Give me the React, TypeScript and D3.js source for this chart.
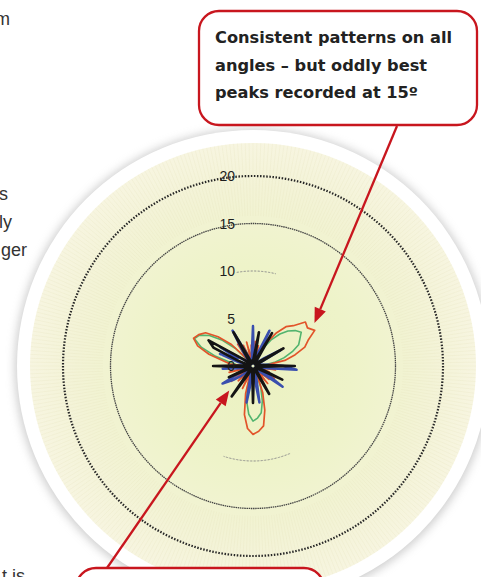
import React from "react";
import * as d3 from "d3";

// bearing of every reading, degrees clockwise from north
const angles = d3.range(0, 360, 5);
const ringTicks = [0, 5, 10, 15, 20];

// 15° tilt (orange) – three big lobes
const tilt15 = [
  0.6, 2.6, 0.5, 2.2, 0.6, 1.8, 2.8, 4.2, 5.4, 6.0, 7.2, 7.0,
  7.5, 6.4, 5.8, 4.6, 3.4, 1.6, 2.8, 0.5, 2.4, 0.5, 1.8, 0.6,
  2.6, 0.5, 2.2, 0.6, 2.4, 0.6, 2.2, 1.0, 3.0, 4.8, 6.4, 6.9,
  7.2, 6.6, 5.2, 3.0, 0.8, 2.6, 0.5, 2.4, 0.6, 2.2, 0.5, 2.8,
  0.6, 2.2, 0.5, 2.6, 0.6, 2.2, 0.8, 2.4, 3.2, 4.8, 6.2, 6.9,
  6.6, 6.1, 4.8, 3.2, 0.8, 2.8, 0.6, 2.4, 0.5, 2.6, 0.6, 2.2,
];
// 10° tilt (green)
const tilt10 = [
  0.5, 1.8, 0.4, 1.6, 0.5, 1.4, 2.2, 3.4, 4.4, 5.2, 5.8, 6.2,
  5.7, 5.3, 4.4, 3.4, 2.4, 1.2, 2.0, 0.4, 1.8, 0.4, 1.4, 0.5,
  2.0, 0.4, 1.6, 0.5, 1.8, 0.5, 1.6, 0.8, 2.4, 3.8, 5.0, 5.5,
  5.8, 5.1, 3.8, 2.2, 0.6, 1.8, 0.4, 1.8, 0.5, 1.6, 0.4, 2.0,
  0.5, 1.6, 0.4, 1.8, 0.5, 1.6, 0.6, 1.8, 2.6, 4.2, 5.8, 6.8,
  6.5, 5.6, 4.2, 2.6, 0.6, 2.0, 0.5, 1.8, 0.4, 1.8, 0.5, 1.6,
];
// 5° tilt (blue)
const tilt5 = [
  4.2, 0.8, 0.3, 0.5, 1.4, 4.1, 0.6, 0.3, 0.5, 0.3, 0.6, 1.4,
  3.4, 0.6, 0.3, 0.5, 0.8, 1.6, 3.2, 4.6, 1.2, 0.3, 0.5, 0.9,
  1.6, 3.8, 0.8, 0.3, 0.5, 0.3, 0.6, 0.4, 0.7, 1.4, 3.9, 0.8,
  0.5, 1.2, 3.9, 1.0, 0.3, 0.5, 0.3, 0.6, 0.5, 0.9, 1.6, 2.6,
  3.7, 1.0, 0.3, 0.6, 1.4, 3.2, 0.6, 0.3, 0.6, 1.6, 3.7, 1.8,
  4.0, 1.0, 0.3, 0.5, 0.9, 1.8, 4.3, 1.0, 0.3, 0.5, 0.3, 1.4,
];
// 0° tilt (black)
const tilt0 = [
  0.5, 0.9, 3.6, 0.6, 0.3, 0.9, 4.0, 0.6, 0.3, 0.5, 0.3, 0.9,
  3.7, 0.6, 0.3, 0.5, 0.3, 1.1, 4.4, 0.8, 0.3, 0.5, 0.9, 3.4,
  0.6, 0.3, 0.5, 0.3, 0.5, 0.9, 3.4, 0.6, 0.3, 0.5, 0.3, 0.9,
  3.9, 0.8, 0.3, 0.5, 0.3, 0.5, 1.1, 3.9, 0.6, 0.3, 0.5, 0.3,
  0.9, 2.8, 0.5, 0.3, 0.5, 1.1, 4.2, 0.8, 0.3, 0.7, 1.8, 4.6,
  5.4, 1.2, 0.3, 0.5, 0.3, 1.1, 4.1, 0.6, 0.3, 0.5, 0.3, 0.6,
];

const series = [
  { name: "10°", values: tilt10, color: "#52b46e", width: 1.6 },
  { name: "15°", values: tilt15, color: "#e2542a", width: 1.7 },
  { name: "5°", values: tilt5, color: "#3a4fae", width: 2.5 },
  { name: "0°", values: tilt0, color: "#141414", width: 2.6 },
];

const calloutTop = ["Consistent patterns on all", "angles – but oddly best", "peaks recorded at 15º"];
// where each pointer lands, in chart terms (bearing, value)
const pointTop = { angle: 55, value: 7.9 };
const pointBottom = { angle: 224, value: 3.6 };

const bodyLines = [
  { text: "m", x: 10, y: 25 },
  { text: "s", x: 8, y: 200 },
  { text: "ly", x: 12, y: 228 },
  { text: "ger", x: 27, y: 256 },
  { text: "t is", x: 25, y: 582 },
];

const W = 481;
const H = 577;
const cx = 253;
const cy = 366;
const RED = "#c8161e";

const rad = (deg: number) => (deg * Math.PI) / 180;

function Arrow({ from, to }: { from: [number, number]; to: [number, number] }) {
  const dx = to[0] - from[0];
  const dy = to[1] - from[1];
  const len = Math.hypot(dx, dy);
  const ux = dx / len;
  const uy = dy / len;
  const head = 15;
  const half = 6;
  const bx = to[0] - ux * head;
  const by = to[1] - uy * head;
  const pts = [
    [to[0], to[1]],
    [bx - uy * half, by + ux * half],
    [bx + uy * half, by - ux * half],
  ];
  return (
    <g>
      <line x1={from[0]} y1={from[1]} x2={bx} y2={by} stroke={RED} strokeWidth={2.3} />
      <polygon points={pts.map((p) => p.join(",")).join(" ")} fill={RED} />
    </g>
  );
}

export default function App() {
  const r = d3.scaleLinear().domain([0, 20]).range([0, 190]);
  const radial = d3
    .lineRadial<number>()
    .angle((_, i) => rad(angles[i]))
    .radius((d) => r(d))
    .curve(d3.curveLinearClosed);

  const polar = (p: { angle: number; value: number }): [number, number] => [
    cx + r(p.value) * Math.sin(rad(p.angle)),
    cy - r(p.value) * Math.cos(rad(p.angle)),
  ];

  const spokes = d3.range(0, 360, 1);
  const arc10 = d3.arc();
  const faint10 = [
    [-10, 14],
    [157, 198],
  ].map(([a0, a1]) =>
    arc10({ innerRadius: r(10), outerRadius: r(10), startAngle: rad(a0), endAngle: rad(a1) } as any)
  );

  return (
    <div style={{ position: "fixed", left: 0, top: 0, width: W, height: H, background: "#fff" }}>
      <svg width={W} height={H} style={{ display: "block" }}>
        <defs>
          <radialGradient id="disc" cx="50%" cy="50%" r="50%">
            <stop offset="0" stopColor="#ebf1c1" />
            <stop offset="0.45" stopColor="#eef3c9" />
            <stop offset="0.8" stopColor="#f3f3d6" />
            <stop offset="1" stopColor="#f7f5e0" />
          </radialGradient>
          <filter id="soft" x="-20%" y="-20%" width="140%" height="140%">
            <feGaussianBlur stdDeviation="5" />
          </filter>
        </defs>

        {bodyLines.map((b) => (
          <text
            key={b.text}
            x={b.x}
            y={b.y}
            textAnchor="end"
            fontFamily="Liberation Sans, Arial, sans-serif"
            fontSize={18}
            fill="#333"
          >
            {b.text}
          </text>
        ))}

        {/* disc */}
        <circle cx={cx} cy={cy + 1} r={238} fill="#9a9a9a" opacity={0.5} filter="url(#soft)" />
        <circle cx={cx} cy={cy} r={236} fill="#fff" />
        <circle cx={cx} cy={cy} r={223} fill="url(#disc)" />
        <g transform={`translate(${cx},${cy})`}>
          {spokes.map((a) => (
            <line
              key={a}
              x1={150 * Math.sin(rad(a))}
              y1={-150 * Math.cos(rad(a))}
              x2={223 * Math.sin(rad(a))}
              y2={-223 * Math.cos(rad(a))}
              stroke="#e0dcb4"
              strokeWidth={0.5}
              opacity={0.4}
            />
          ))}

          {/* rings */}
          <circle r={r(20)} fill="none" stroke="#262626" strokeWidth={2.2} strokeDasharray="1.5 1.6" />
          <circle r={r(15)} fill="none" stroke="#444" strokeWidth={1.3} strokeDasharray="1.5 0.7" />
          {faint10.map((d, i) => (
            <path key={i} d={d || ""} fill="none" stroke="#888" strokeWidth={1} strokeDasharray="2 1.5" opacity={0.55} />
          ))}

          {series.map((s) => (
            <path
              key={s.name}
              d={radial(s.values) || ""}
              fill="none"
              stroke={s.color}
              strokeWidth={s.width}
              strokeLinejoin="round"
            />
          ))}

          {ringTicks.map((t) => (
            <text
              key={t}
              x={-18}
              y={-r(t) + 5}
              textAnchor="end"
              fontFamily="Liberation Sans, Arial, sans-serif"
              fontSize={14}
              fill="#1e1e1e"
            >
              {t}
            </text>
          ))}
        </g>

        {/* callouts */}
        <rect x={199} y={11} width={278} height={114} rx={20} fill="#fff" stroke={RED} strokeWidth={2.3} />
        {calloutTop.map((line, i) => (
          <text
            key={i}
            x={215}
            y={43 + i * 27.5}
            fontFamily="DejaVu Sans, sans-serif"
            fontWeight={700}
            fontSize={16.2}
            fill="#222"
          >
            {line}
          </text>
        ))}
        <Arrow from={[397, 126]} to={polar(pointTop)} />

        <rect x={76} y={568} width={248} height={60} rx={20} fill="#fff" stroke={RED} strokeWidth={2.3} />
        <Arrow from={[107, 568]} to={polar(pointBottom)} />
      </svg>
    </div>
  );
}
